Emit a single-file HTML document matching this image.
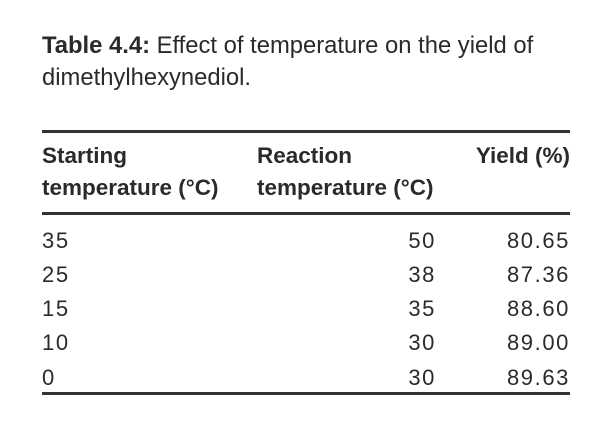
<!DOCTYPE html>
<html><head><style>
body{margin:0;width:600px;height:436px;background:#fff;position:relative;font-family:"Liberation Sans",sans-serif;color:#2a2a2a;overflow:hidden}
.t{position:absolute;line-height:1;white-space:nowrap}
.h{font-size:22.5px;font-weight:bold}
.ti{font-size:23.8px}
.d{font-size:22px;letter-spacing:1.6px}
.b{font-weight:bold}
.r{text-align:right}
.d.r{margin-right:-1.6px}
.rule{position:absolute;left:42px;width:528px;background:#333}
</style></head><body>
<div class="t ti" style="left:42px;top:34px"><span class="b">Table 4.4:</span> Effect of temperature on the yield of</div>
<div class="t ti" style="left:42px;top:66px">dimethylhexynediol.</div>
<div class="rule" style="top:130px;height:3px"></div>
<div class="t h" style="left:42px;top:145px">Starting</div>
<div class="t h" style="left:42px;top:177px">temperature (°C)</div>
<div class="t h" style="left:257px;top:145px">Reaction</div>
<div class="t h" style="left:257px;top:177px">temperature (°C)</div>
<div class="t h r" style="left:400px;width:170px;top:145px">Yield (%)</div>
<div class="rule" style="top:212px;height:3px"></div>

<div class="t d" style="left:42px;top:230px">35</div>
<div class="t d r" style="left:336px;width:100px;top:230px">50</div>
<div class="t d r" style="left:470px;width:100px;top:230px">80.65</div>

<div class="t d" style="left:42px;top:264px">25</div>
<div class="t d r" style="left:336px;width:100px;top:264px">38</div>
<div class="t d r" style="left:470px;width:100px;top:264px">87.36</div>

<div class="t d" style="left:42px;top:298px">15</div>
<div class="t d r" style="left:336px;width:100px;top:298px">35</div>
<div class="t d r" style="left:470px;width:100px;top:298px">88.60</div>

<div class="t d" style="left:42px;top:332px">10</div>
<div class="t d r" style="left:336px;width:100px;top:332px">30</div>
<div class="t d r" style="left:470px;width:100px;top:332px">89.00</div>

<div class="t d" style="left:42px;top:367px">0</div>
<div class="t d r" style="left:336px;width:100px;top:367px">30</div>
<div class="t d r" style="left:470px;width:100px;top:367px">89.63</div>

<div class="rule" style="top:392px;height:3px"></div>
</body></html>
